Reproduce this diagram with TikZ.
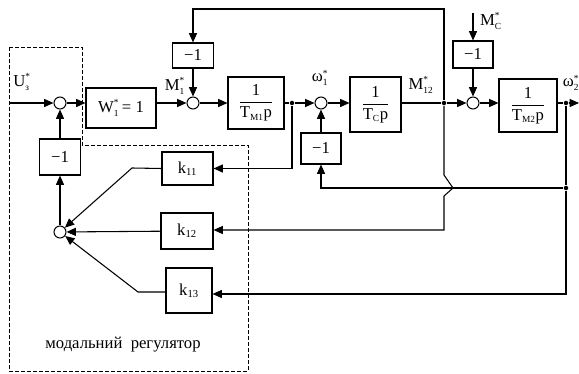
\documentclass[tikz,border=0pt]{standalone}
\usepackage{fontspec}
\setmainfont{Liberation Serif}
\usetikzlibrary{arrows.meta}
\newdimen\px \px=0.75pt
\newcommand{\SupSub}[3]{\ensuremath{\mbox{#1}^{\mbox{\scriptsize #2}}_{\mbox{\scriptsize #3}}}}
\newcommand{\SubOnly}[2]{\ensuremath{\mbox{#1}_{\mbox{\footnotesize #2}}}}
\newcommand{\Frac}[1]{\ensuremath{\displaystyle\frac{\mbox{1}}{\mbox{T}_{\mbox{\scriptsize #1}}\mbox{p}}}}
\begin{document}
\begin{tikzpicture}[x=0.75pt,y=-0.75pt, line width=0.8pt,
  >={Triangle[length=7pt,width=6pt]},
  blk/.style={draw, inner sep=0pt, font=\fontsize{12.5}{14}\selectfont},
  sumc/.style={draw, circle, minimum size=12\px, inner sep=0pt},
  dotc/.style={circle, fill, inner sep=0pt, minimum size=4.5\px},
  lbl/.style={font=\fontsize{12.5}{14}\selectfont, inner sep=0pt},
  dashb/.style={line width=0.7pt, dash pattern=on 3pt off 1.5pt}]
\useasboundingbox (0,0) rectangle (579,374);

% summing junctions
\node[sumc] (s1) at (60,103) {};
\node[sumc] (s2) at (193,103) {};
\node[sumc] (s3) at (321,103) {};
\node[sumc] (s4) at (473,103) {};
\node[sumc] (s5) at (60,232) {};

% blocks
\node[blk, minimum width=70\px, minimum height=40\px] (W) at (121,108) {\SupSub{W}{*}{1}\,= 1};
\node[blk, minimum width=41\px, minimum height=25\px] (m1) at (193,55.5) {−1};
\node[blk, minimum width=56\px, minimum height=52\px] (P1) at (256,103) {\Frac{M1}};
\node[blk, minimum width=40\px, minimum height=31\px] (m2) at (321,148.5) {−1};
\node[blk, minimum width=51\px, minimum height=55\px] (P2) at (375.5,104.5) {\Frac{C}};
\node[blk, minimum width=40\px, minimum height=27\px] (m3) at (473,54.5) {−1};
\node[blk, minimum width=58\px, minimum height=53\px] (P3) at (528,105.5) {\Frac{M2}};
\node[blk, minimum width=41\px, minimum height=36\px] (m0) at (60,157) {−1};
\node[blk, minimum width=51\px, minimum height=33\px] (k11) at (187.5,168.5) {\SubOnly{k}{11}};
\node[blk, minimum width=52\px, minimum height=36\px] (k12) at (187,231) {\SubOnly{k}{12}};
\node[blk, minimum width=46\px, minimum height=45\px] (k13) at (189,290.5) {\SubOnly{k}{13}};

% branch dots
\node[dotc] (d1) at (292,103) {};
\node[dotc] (d2) at (444,103) {};
\node[dotc] (d3) at (566,103) {};
\node[dotc] (d4) at (566,188) {};

% helper coordinates
\coordinate (in) at (10,103);
\coordinate (out) at (579,103);
\coordinate (mc) at (473,13);
\coordinate (t1) at (193,9);
\coordinate (t2) at (444,9);
\coordinate (b1) at (444,175);
\coordinate (b2) at (453,188);
\coordinate (b3) at (444,196);
\coordinate (b4) at (444,230);
\coordinate (f1) at (321,188);
\coordinate (k13r) at (566,294);
\coordinate (k1a) at (132,168);
\coordinate (k3a) at (138,292);

% connectors
\draw[->] (in) -- (s1);
\draw[->] (s1) -- (s1 -| W.west);
\draw[->] (W.east |- s2) -- (s2);
\draw[->] (m1) -- (s2);
\draw[->] (s2) -- (P1);
\draw (P1) -- (d1);
\draw[->] (d1) -- (s3);
\draw[->] (d1) |- (k11.east);
\draw[->] (s3) -- (s3 -| P2.west);
\draw (P2.east |- d2) -- (d2);
\draw[->] (d2) -- (s4);
\draw[->] (mc) -- (m3);
\draw[->] (m3) -- (s4);
\draw[->] (s4) -- (s4 -| P3.west);
\draw (P3.east |- d3) -- (d3);
\draw[->] (d3) -- (out);
\draw (d3) -- (d4);
\draw[->] (d4) -- (f1) -- (m2);
\draw[->] (m2) -- (s3);
\draw[->] (d4) -- (k13r) -- (k13r -| k13.east);
\draw[->] (d2) -- (t2) -- (t1) -- (m1);
\draw[->] (d2) -- (b1) -- (b2) -- (b3) -- (b4) -- (b4 -| k12.east);
\draw[->] (k11.west) -- (k1a) -- (s5);
\draw[->] (k12) -- (s5);
\draw[->] (k13.west |- k3a) -- (k3a) -- (s5);
\draw[->] (s5) -- (m0);
\draw[->] (m0) -- (s1);

% modal regulator boundary
\draw[dashb] (9,47) -- (82,47) -- (82,145) -- (248,145) -- (248,371) -- (9,371) -- cycle;

% labels
\node[lbl] (lU) at (22,82) {\SupSub{U}{*}{з}};
\node[lbl] (lM1) at (175,86) {\SupSub{M}{*}{1}};
\node[lbl] (lw1) at (320,78) {\SupSub{ω}{*}{1}};
\node[lbl] (lM12) at (421,85) {\SupSub{M}{*}{12}};
\node[lbl] (lMc) at (491,21) {\SupSub{M}{*}{C}};
\node[lbl] (lw2) at (571,83) {\SupSub{ω}{*}{2}};
\node[lbl] (mr) at (123,345) {модальний\ \ регулятор};
\end{tikzpicture}
\end{document}
